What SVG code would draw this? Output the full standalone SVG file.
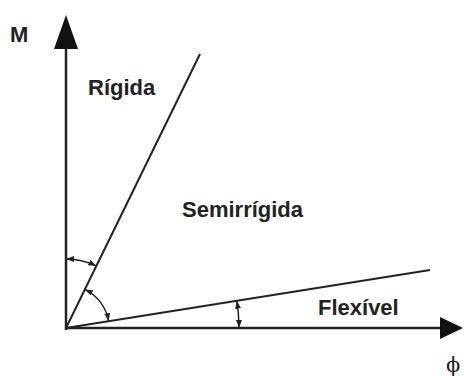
<svg xmlns="http://www.w3.org/2000/svg" width="464" height="376" viewBox="0 0 464 376">
<defs>
<style>
.lbl{font-family:"Liberation Sans",Arial,sans-serif;font-weight:bold;font-size:22px;fill:#222}
.ln{stroke:#222;fill:none}
.arc{stroke:#222;stroke-width:1.5;fill:none;marker-start:url(#ah);marker-end:url(#ah)}
</style>
<marker id="ah" markerUnits="userSpaceOnUse" markerWidth="8" markerHeight="6" refX="8" refY="3" orient="auto-start-reverse">
<path d="M0,0 L8,3 L0,6 Z" fill="#222"/>
</marker>
</defs>
<rect width="464" height="376" fill="#fff"/>
<g id="axes">
<line class="ln" x1="66" y1="330" x2="66" y2="46" stroke-width="2.5"/>
<polygon points="66,15 54,49 78,49" fill="#111"/>
<line class="ln" x1="65" y1="328" x2="442" y2="328" stroke-width="2.5"/>
<polygon points="463,328 440,317 440,339" fill="#111"/>
</g>
<g id="connectors">
<line class="ln" x1="66" y1="328" x2="200" y2="54" stroke-width="2"/>
<line class="ln" x1="66" y1="328" x2="430" y2="270" stroke-width="2"/>
<path class="arc" d="M66,259 A69,69 0 0 1 96.3,266"/>
<path class="arc" d="M84.9,289.4 A43,43 0 0 1 108.5,321.2"/>
<path class="arc" d="M236.8,300.8 A173,173 0 0 1 239,328"/>
</g>
<g id="label-M"><text class="lbl" x="10" y="42">M</text></g>
<g id="label-rigida"><text class="lbl" x="88" y="95">Rígida</text></g>
<g id="label-semirrigida"><text class="lbl" x="182" y="217">Semirrígida</text></g>
<g id="label-flexivel"><text class="lbl" x="318" y="315">Flexível</text></g>
<g id="label-phi"><text x="446" y="372" style="font-family:'DejaVu Serif','Liberation Serif',serif;font-size:21px;fill:#222">ϕ</text></g>
</svg>
